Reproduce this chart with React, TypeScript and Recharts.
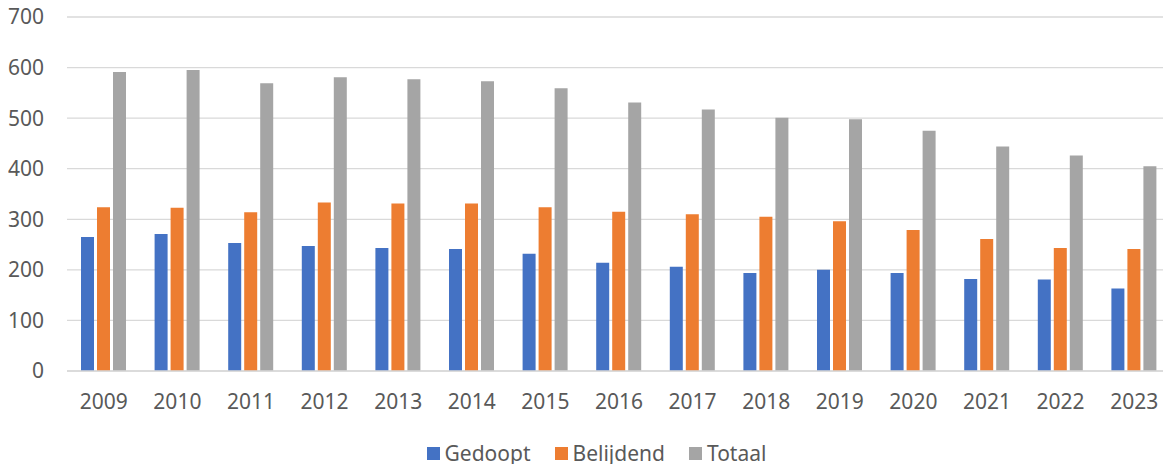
import React from "react";
import { BarChart, Bar, XAxis, YAxis, CartesianGrid, Legend } from "recharts";

const years = ["2009", "2010", "2011", "2012", "2013", "2014", "2015", "2016", "2017", "2018", "2019", "2020", "2021", "2022", "2023"];
const gedoopt = [265, 271, 253, 247, 243, 241, 232, 214, 206, 194, 200, 194, 182, 181, 163];
const belijdend = [324, 323, 314, 333, 331, 331, 324, 315, 310, 305, 296, 279, 261, 243, 241];
const totaal = [591, 595, 569, 581, 577, 573, 559, 531, 517, 501, 498, 475, 444, 426, 405];
const yTicks = [0, 100, 200, 300, 400, 500, 600, 700];

const series = [
  { key: "gedoopt", name: "Gedoopt", color: "#4472C4" },
  { key: "belijdend", name: "Belijdend", color: "#ED7D31" },
  { key: "totaal", name: "Totaal", color: "#A5A5A5" },
];

const data = years.map((year, i) => ({
  year,
  gedoopt: gedoopt[i],
  belijdend: belijdend[i],
  totaal: totaal[i],
}));

const font = "'Noto Sans', sans-serif";
const textColor = "#595959";

function LegendContent() {
  return (
    <div style={{ display: "flex", justifyContent: "center", gap: 24, fontFamily: font, fontSize: 21, lineHeight: "22px", color: textColor, paddingLeft: 22 }}>
      {series.map((s) => (
        <div key={s.key} style={{ display: "flex", alignItems: "center" }}>
          <span style={{ display: "inline-block", width: 13, height: 13, background: s.color, marginRight: 5 }} />
          <span>{s.name}</span>
        </div>
      ))}
    </div>
  );
}

export default function App() {
  return (
    <div style={{ margin: -8, background: "#fff", width: 1171, height: 472 }}>
      <BarChart
        width={1171}
        height={472}
        data={data}
        margin={{ top: 17, right: 0, left: 0, bottom: 0 }}
        barSize={13}
        barGap={3}
      >
        <CartesianGrid vertical={false} stroke="#d9d9d9" strokeWidth={1.3} />
        <XAxis
          dataKey="year"
          height={59}
          tickLine={false}
          tickSize={0}
          tickMargin={23}
          axisLine={{ stroke: "#d9d9d9", strokeWidth: 1.3 }}
          tick={{ fill: textColor, fontSize: 21, fontFamily: font }}
        />
        <YAxis
          width={67}
          domain={[0, 700]}
          ticks={yTicks}
          axisLine={false}
          tickLine={false}
          tickSize={0}
          tickMargin={23}
          tick={{ fill: textColor, fontSize: 21, fontFamily: font }}
        />
        <Legend verticalAlign="bottom" height={42} content={<LegendContent />} wrapperStyle={{ bottom: -12 }} />
        {series.map((s) => (
          <Bar key={s.key} dataKey={s.key} name={s.name} fill={s.color} isAnimationActive={false} />
        ))}
      </BarChart>
    </div>
  );
}
